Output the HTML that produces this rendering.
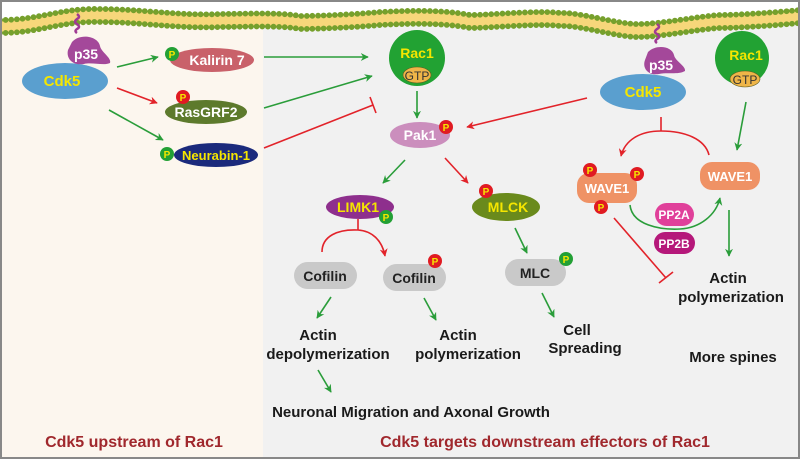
<!DOCTYPE html>
<html><head><meta charset="utf-8"><style>
html,body{margin:0;padding:0;background:#fff}
svg{display:block}
text{font-family:"Liberation Sans",sans-serif;font-weight:bold}
</style></head><body>
<svg width="800" height="459" viewBox="0 0 800 459" xmlns="http://www.w3.org/2000/svg">
<defs>
<marker id="ag" viewBox="0 0 10 10" refX="9" refY="5" markerWidth="5" markerHeight="5" orient="auto"><path d="M0,0 L10,5 L0,10 L3,5 z" fill="#2a9d3a"/></marker>
<marker id="ar" viewBox="0 0 10 10" refX="9" refY="5" markerWidth="5" markerHeight="5" orient="auto"><path d="M0,0 L10,5 L0,10 L3,5 z" fill="#e2232a"/></marker>
</defs>
<rect x="0" y="0" width="800" height="459" fill="#f1f1f1"/>
<rect x="0" y="0" width="263" height="459" fill="#fcf6ee"/>
<path d="M0,0 H800 V10 C780,12 740,15 720,15 C700,16 660,24 640,24 C620,25 580,12 560,13 C540,10 490,15 470,15 C440,9 400,11 380,12 C360,14 320,16 300,16 C280,12 240,14 220,14 C180,16 140,9 100,9 C60,8 40,20 0,20 Z" fill="#fff"/>
<path d="M0,20 C40,20 60,8 100,9 C140,9 180,16 220,14 C240,14 280,12 300,16 C320,16 360,14 380,12 C400,11 440,9 470,15 C490,15 540,10 560,13 C580,12 620,25 640,24 C660,24 700,16 720,15 C740,15 780,12 800,10 L800,23 C780,25 740,28 720,28 C700,29 660,37 640,37 C620,38 580,25 560,26 C540,23 490,28 470,28 C440,22 400,24 380,25 C360,27 320,29 300,29 C280,25 240,27 220,27 C180,29 140,22 100,22 C60,21 40,33 0,33 Z" fill="#f7d77a"/>
<path d="M0,20 C40,20 60,8 100,9 C140,9 180,16 220,14 C240,14 280,12 300,16 C320,16 360,14 380,12 C400,11 440,9 470,15 C490,15 540,10 560,13 C580,12 620,25 640,24 C660,24 700,16 720,15 C740,15 780,12 800,10" fill="none" stroke="#76a02c" stroke-width="5.8" stroke-linecap="round" stroke-dasharray="0 5.6"/>
<path d="M0,33 C40,33 60,21 100,22 C140,22 180,29 220,27 C240,27 280,25 300,29 C320,29 360,27 380,25 C400,24 440,22 470,28 C490,28 540,23 560,26 C580,25 620,38 640,37 C660,37 700,29 720,28 C740,28 780,25 800,23" fill="none" stroke="#76a02c" stroke-width="5.8" stroke-linecap="round" stroke-dasharray="0 5.6"/>
<rect x="1" y="1" width="798" height="457" fill="none" stroke="#888" stroke-width="2"/>

<path d="M77,14 q4,3 0,5 q-4,3 0,5 q4,3 0,5 q-3,2 0,4" fill="none" stroke="#a03a94" stroke-width="2.5"/>
<ellipse cx="65" cy="81" rx="43" ry="18" fill="#5a9fcf"/>
<path d="M72,42 C80,33 98,36 100,46 C101,52 112,58 110,63 C104,66 92,62 84,64 C72,66 66,58 68,50 Z" fill="#a4489a"/>
<text x="86" y="59" font-size="14" fill="#fff" text-anchor="middle">p35</text>
<text x="62" y="86" font-size="15" fill="#f5e600" text-anchor="middle">Cdk5</text>

<ellipse cx="212" cy="60" rx="42" ry="12" fill="#c9616a"/>
<text x="217" y="65" font-size="14" fill="#fff" text-anchor="middle">Kalirin 7</text>
<circle cx="172" cy="54" r="7" fill="#23a035"/><text x="172" y="58" font-size="10" fill="#f5e600" text-anchor="middle">P</text>

<ellipse cx="206" cy="112" rx="41" ry="12" fill="#5d7a2c"/>
<text x="206" y="117" font-size="14" fill="#fff" text-anchor="middle">RasGRF2</text>
<circle cx="183" cy="97" r="7" fill="#e01b22"/><text x="183" y="101" font-size="10" fill="#f5e600" text-anchor="middle">P</text>

<ellipse cx="216" cy="155" rx="42" ry="12" fill="#1b2a7c"/>
<text x="216" y="160" font-size="13" fill="#f5e600" text-anchor="middle">Neurabin-1</text>
<circle cx="167" cy="154" r="7" fill="#23a035"/><text x="167" y="158" font-size="10" fill="#f5e600" text-anchor="middle">P</text>

<g stroke-width="1.6" fill="none">
<line x1="117" y1="67" x2="158" y2="57" stroke="#2a9d3a" marker-end="url(#ag)"/>
<line x1="117" y1="88" x2="157" y2="103" stroke="#e2232a" marker-end="url(#ar)"/>
<line x1="109" y1="110" x2="163" y2="140" stroke="#2a9d3a" marker-end="url(#ag)"/>
<line x1="264" y1="57" x2="368" y2="57" stroke="#2a9d3a" marker-end="url(#ag)"/>
<line x1="264" y1="108" x2="372" y2="76" stroke="#2a9d3a" marker-end="url(#ag)"/>
<line x1="264" y1="148" x2="373" y2="105" stroke="#e2232a"/>
<line x1="370" y1="97" x2="376" y2="113" stroke="#e2232a"/>
</g>

<circle cx="417" cy="58" r="28" fill="#22a233"/>
<text x="417" y="58" font-size="14" fill="#f5e600" text-anchor="middle">Rac1</text>
<ellipse cx="417" cy="75" rx="14" ry="8" fill="#efb548" stroke="#5a5a20" stroke-width="0.6"/>
<text x="417" y="80" font-size="12" fill="#333" text-anchor="middle" style="font-weight:normal">GTP</text>
<line x1="417" y1="91" x2="417" y2="118" stroke="#2a9d3a" stroke-width="1.6" marker-end="url(#ag)"/>

<ellipse cx="420" cy="135" rx="30" ry="13" fill="#cb8ebd"/>
<text x="420" y="140" font-size="14" fill="#fff" text-anchor="middle">Pak1</text>
<circle cx="446" cy="127" r="7" fill="#e01b22"/><text x="446" y="131" font-size="10" fill="#f5e600" text-anchor="middle">P</text>

<g stroke-width="1.6" fill="none">
<line x1="405" y1="160" x2="383" y2="183" stroke="#2a9d3a" marker-end="url(#ag)"/>
<line x1="445" y1="158" x2="468" y2="183" stroke="#e2232a" marker-end="url(#ar)"/>
<line x1="587" y1="98" x2="467" y2="127" stroke="#e2232a" marker-end="url(#ar)"/>
</g>

<ellipse cx="360" cy="207" rx="34" ry="12" fill="#8e2f8d"/>
<text x="358" y="212" font-size="14" fill="#f5e600" text-anchor="middle">LIMK1</text>
<circle cx="386" cy="217" r="7" fill="#23a035"/><text x="386" y="221" font-size="10" fill="#f5e600" text-anchor="middle">P</text>

<ellipse cx="506" cy="207" rx="34" ry="14" fill="#6a8a1c"/>
<text x="508" y="212" font-size="14" fill="#f5e600" text-anchor="middle">MLCK</text>
<circle cx="486" cy="191" r="7" fill="#e01b22"/><text x="486" y="195" font-size="10" fill="#f5e600" text-anchor="middle">P</text>

<g stroke-width="1.6" fill="none">
<line x1="358" y1="219" x2="358" y2="230" stroke="#e2232a"/>
<path d="M322,252 C322,236 338,229 358,230 C372,231 382,240 385,256" stroke="#e2232a" marker-end="url(#ar)"/>
<line x1="515" y1="228" x2="527" y2="253" stroke="#2a9d3a" marker-end="url(#ag)"/>
</g>

<rect x="294" y="262" width="63" height="27" rx="13.5" fill="#c9c9c9"/>
<text x="325" y="281" font-size="14" fill="#222" text-anchor="middle">Cofilin</text>
<rect x="383" y="264" width="63" height="27" rx="13.5" fill="#c9c9c9"/>
<text x="414" y="283" font-size="14" fill="#222" text-anchor="middle">Cofilin</text>
<circle cx="435" cy="261" r="7" fill="#e01b22"/><text x="435" y="265" font-size="10" fill="#f5e600" text-anchor="middle">P</text>
<rect x="505" y="259" width="61" height="27" rx="13.5" fill="#c9c9c9"/>
<text x="535" y="278" font-size="14" fill="#222" text-anchor="middle">MLC</text>
<circle cx="566" cy="259" r="7" fill="#23a035"/><text x="566" y="263" font-size="10" fill="#f5e600" text-anchor="middle">P</text>

<g stroke-width="1.6" fill="none">
<line x1="331" y1="297" x2="317" y2="318" stroke="#2a9d3a" marker-end="url(#ag)"/>
<line x1="424" y1="298" x2="436" y2="320" stroke="#2a9d3a" marker-end="url(#ag)"/>
<line x1="542" y1="293" x2="554" y2="317" stroke="#2a9d3a" marker-end="url(#ag)"/>
<line x1="318" y1="370" x2="331" y2="392" stroke="#2a9d3a" marker-end="url(#ag)"/>
</g>

<g font-size="15" fill="#1a1a1a" text-anchor="middle">
<text x="318" y="340">Actin</text>
<text x="328" y="359">depolymerization</text>
<text x="458" y="340">Actin</text>
<text x="468" y="359">polymerization</text>
<text x="577" y="335">Cell</text>
<text x="585" y="353">Spreading</text>
<text x="728" y="283">Actin</text>
<text x="731" y="302">polymerization</text>
<text x="733" y="362">More spines</text>
<text x="411" y="417">Neuronal Migration and Axonal Growth</text>
</g>
<text x="134" y="447" font-size="16" fill="#a0282d" text-anchor="middle">Cdk5 upstream of Rac1</text>
<text x="545" y="447" font-size="16" fill="#a0282d" text-anchor="middle">Cdk5 targets downstream effectors of Rac1</text>

<path d="M657,24 q4,3 0,5 q-4,3 0,5 q4,3 0,5 q-3,2 0,4" fill="none" stroke="#a03a94" stroke-width="2.5"/>
<ellipse cx="643" cy="92" rx="43" ry="18" fill="#5a9fcf"/>
<path d="M648,52 C656,44 672,46 674,55 C675,61 686,66 685,71 C678,75 667,72 659,74 C648,76 642,68 645,60 Z" fill="#a4489a"/>
<text x="661" y="70" font-size="14" fill="#fff" text-anchor="middle">p35</text>
<text x="643" y="97" font-size="15" fill="#f5e600" text-anchor="middle">Cdk5</text>

<circle cx="742" cy="58" r="27" fill="#22a233"/>
<text x="746" y="60" font-size="14" fill="#f5e600" text-anchor="middle">Rac1</text>
<ellipse cx="745" cy="79" rx="15" ry="8" fill="#efb548" stroke="#5a5a20" stroke-width="0.6"/>
<text x="745" y="84" font-size="12" fill="#333" text-anchor="middle" style="font-weight:normal">GTP</text>

<g stroke-width="1.6" fill="none">
<line x1="661" y1="117" x2="661" y2="131" stroke="#e2232a"/>
<path d="M709,155 C705,139 685,131 661,131 C640,131 625,140 621,156" stroke="#e2232a" marker-end="url(#ar)"/>
<line x1="746" y1="102" x2="737" y2="150" stroke="#2a9d3a" marker-end="url(#ag)"/>
<path d="M630,205 C632,225 660,230 680,229 C700,228 716,215 720,198" stroke="#2a9d3a" marker-end="url(#ag)"/>
<line x1="729" y1="210" x2="729" y2="256" stroke="#2a9d3a" marker-end="url(#ag)"/>
<line x1="614" y1="218" x2="666" y2="278" stroke="#e2232a"/>
<line x1="659" y1="283" x2="673" y2="272" stroke="#e2232a"/>
</g>

<rect x="577" y="173" width="60" height="30" rx="12" fill="#ef9265"/>
<text x="607" y="193" font-size="13" fill="#fff" text-anchor="middle">WAVE1</text>
<circle cx="590" cy="170" r="7" fill="#e01b22"/><text x="590" y="174" font-size="10" fill="#f5e600" text-anchor="middle">P</text>
<circle cx="637" cy="174" r="7" fill="#e01b22"/><text x="637" y="178" font-size="10" fill="#f5e600" text-anchor="middle">P</text>
<circle cx="601" cy="207" r="7" fill="#e01b22"/><text x="601" y="211" font-size="10" fill="#f5e600" text-anchor="middle">P</text>

<rect x="700" y="162" width="60" height="28" rx="12" fill="#ef9265"/>
<text x="730" y="181" font-size="13" fill="#fff" text-anchor="middle">WAVE1</text>

<rect x="655" y="203" width="39" height="23" rx="11.5" fill="#e0409a"/>
<text x="674" y="219" font-size="12" fill="#fff" text-anchor="middle">PP2A</text>
<rect x="654" y="232" width="41" height="22" rx="11" fill="#b5187a"/>
<text x="674" y="248" font-size="12" fill="#fff" text-anchor="middle">PP2B</text>
</svg>
</body></html>
